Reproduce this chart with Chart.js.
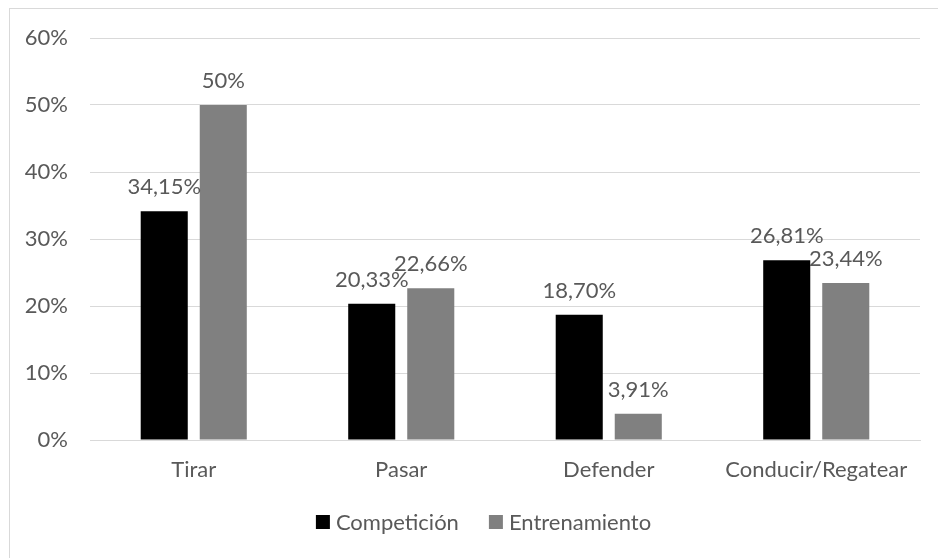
<!DOCTYPE html>
<html>
<head>
<meta charset="utf-8">
<script src="https://cdn.jsdelivr.net/npm/chart.js"></script>
<style>
  body { margin: 0; background: #fff; }
  canvas { display: block; }
</style>
</head>
<body>
<canvas id="my-canvas" width="938" height="558"></canvas>
<script>
const categories = ['Tirar', 'Pasar', 'Defender', 'Conducir/Regatear'];
const competicion = [34.15, 20.33, 18.70, 26.81];
const entrenamiento = [50, 22.66, 3.91, 23.44];
const competicionLabels = ['34,15%', '20,33%', '18,70%', '26,81%'];
const entrenamientoLabels = ['50%', '22,66%', '3,91%', '23,44%'];
const yTicks = [0, 10, 20, 30, 40, 50, 60];

Chart.defaults.font.family = 'Lato';
Chart.defaults.font.size = 22;
Chart.defaults.color = '#595959';

// outer frame of the chart box (cut off at right and bottom like the picture)
const framePlugin = {
  id: 'frame',
  beforeDraw(chart) {
    const ctx = chart.ctx;
    ctx.save();
    ctx.fillStyle = '#fff';
    ctx.fillRect(0, 0, chart.width, chart.height);
    ctx.strokeStyle = '#d9d9d9';
    ctx.lineWidth = 1;
    ctx.strokeRect(9.5, 8.5, 1000, 1000);
    ctx.restore();
  }
};

// value labels above bars
const valueLabels = {
  id: 'valueLabels',
  afterDatasetsDraw(chart) {
    const ctx = chart.ctx;
    ctx.save();
    ctx.font = '22px Lato';
    ctx.fillStyle = '#595959';
    ctx.textAlign = 'center';
    ctx.textBaseline = 'alphabetic';
    chart.data.datasets.forEach((ds, i) => {
      chart.getDatasetMeta(i).data.forEach((bar, j) => {
        ctx.fillText(ds.valueLabels[j], bar.x, bar.y - 17);
      });
    });
    ctx.restore();
  }
};

// legend drawn by hand so the spacing matches the picture
const bottomLegend = {
  id: 'bottomLegend',
  afterDraw(chart) {
    const ctx = chart.ctx;
    const box = 14, gap = 6, itemGap = 30, cy = 522, cx = 483.5;
    ctx.save();
    ctx.font = '22px Lato';
    ctx.textBaseline = 'middle';
    ctx.textAlign = 'left';
    const items = chart.data.datasets.map(ds => ({
      text: ds.label, color: ds.backgroundColor, w: ctx.measureText(ds.label).width
    }));
    const total = items.reduce((s, it) => s + box + gap + it.w, 0) + itemGap * (items.length - 1);
    let x = cx - total / 2;
    items.forEach(it => {
      ctx.fillStyle = it.color;
      ctx.fillRect(x, cy - box / 2, box, box);
      ctx.fillStyle = '#595959';
      ctx.fillText(it.text, x + box + gap, cy + 1);
      x += box + gap + it.w + itemGap;
    });
    ctx.restore();
  }
};

const ctx = document.getElementById('my-canvas').getContext('2d');
const chart = new Chart(ctx, {
  type: 'bar',
  data: {
    labels: categories,
    datasets: [
      {
        label: 'Competición',
        backgroundColor: '#000000',
        data: competicion,
        valueLabels: competicionLabels
      },
      {
        label: 'Entrenamiento',
        backgroundColor: '#808080',
        data: entrenamiento,
        valueLabels: entrenamientoLabels
      }
    ]
  },
  options: {
    responsive: false,
    animation: false,
    devicePixelRatio: 1,
    categoryPercentage: 0.569,
    barPercentage: 0.797,
    layout: { padding: { top: 38, right: 18, left: 0, bottom: 58 } },
    plugins: {
      legend: { display: false },
      tooltip: { enabled: false }
    },
    scales: {
      x: {
        grid: { display: false },
        border: { color: '#d9d9d9' },
        ticks: { padding: 9 },
        afterFit(scale) { scale.height = 60; }
      },
      y: {
        min: 0,
        max: 60,
        afterBuildTicks(scale) { scale.ticks = yTicks.map(v => ({ value: v })); },
        grid: { color: '#d9d9d9', drawTicks: false },
        border: { display: false },
        ticks: {
          padding: 22,
          callback: v => v + '%'
        },
        afterFit(scale) { scale.width = 90; }
      }
    }
  },
  plugins: [framePlugin, valueLabels, bottomLegend]
}); // closes chart
</script>
</body>
</html>
